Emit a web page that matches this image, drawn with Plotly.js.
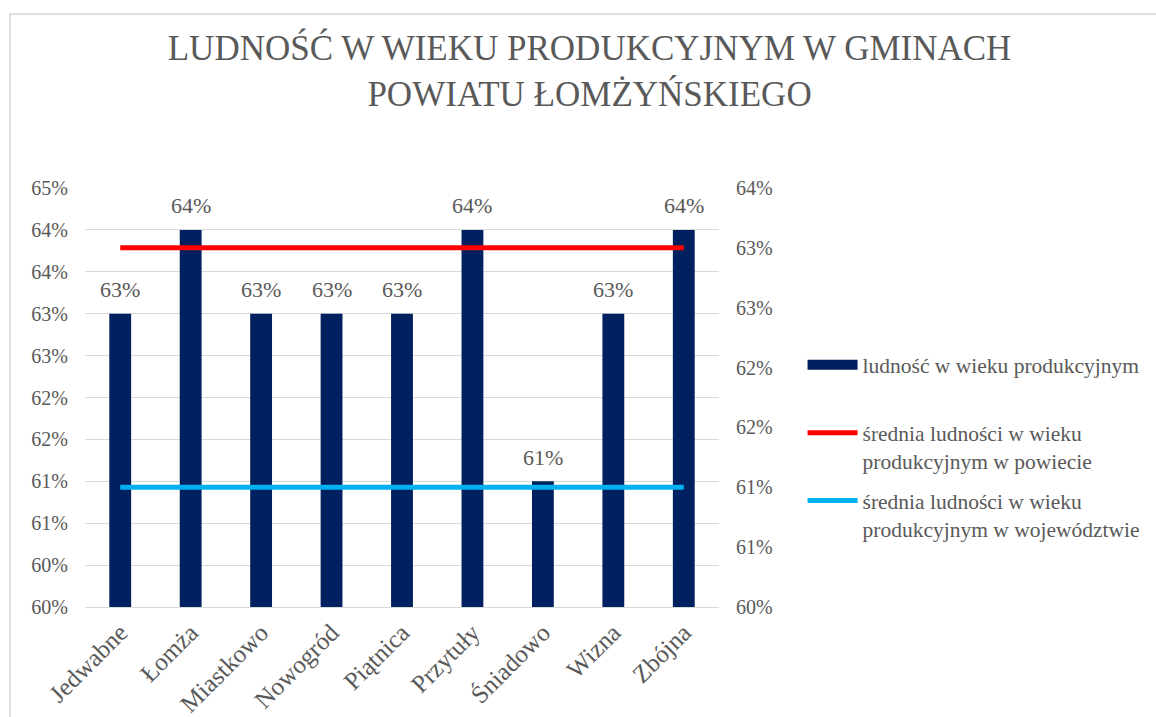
<!DOCTYPE html>
<html>
<head>
<meta charset="utf-8">
<script src="https://cdn.plot.ly/plotly-3.0.1.min.js"></script>
<style>
html,body{margin:0;padding:0;background:#fff;overflow:hidden;}
#wrap{position:relative;width:1156px;height:717px;}
#chart{width:1156px;height:717px;}
#frame{position:absolute;left:9px;top:13px;width:1200px;height:800px;border-left:2px solid #dedede;border-top:2px solid #dedede;pointer-events:none;}
</style>
</head>
<body>
<div id="wrap"><div id="chart"></div><div id="frame"></div></div>
<script>
// Data
var gminy = ["Jedwabne", "Łomża", "Miastkowo", "Nowogród", "Piątnica", "Przytuły", "Śniadowo", "Wizna", "Zbójna"];
var ludnosc = [0.633, 0.643, 0.633, 0.633, 0.633, 0.643, 0.613, 0.633, 0.643];
var sredniaPowiat = 0.633;
var sredniaWoj = 0.613;
var seriesNames = [
  "ludność w wieku produkcyjnym<br> ",
  "średnia ludności w wieku<br>produkcyjnym w powiecie",
  "średnia ludności w wieku<br>produkcyjnym w województwie"
];

var powiatArr = gminy.map(function(){ return sredniaPowiat; });
var wojArr = gminy.map(function(){ return sredniaWoj; });

var FONT = "Liberation Serif";
var GREY = "#595959";
var NAVY = "#002060";

var traces = [
  {type: "bar", x: gminy, y: ludnosc, name: seriesNames[0], showlegend: false,
   marker: {color: NAVY}, hoverinfo: "x+y"},
  // legend entry for the bars (wide rectangle key as in the original)
  {type: "scatter", mode: "lines", x: [null], y: [null], name: seriesNames[0], legendgroup: "a",
   line: {color: NAVY, width: 12}, hoverinfo: "skip"},
  {type: "scatter", mode: "lines", x: gminy, y: powiatArr, yaxis: "y2", name: seriesNames[1], legendgroup: "b",
   line: {color: "#FF0000", width: 5}},
  {type: "scatter", mode: "lines", x: gminy, y: wojArr, yaxis: "y2", name: seriesNames[2], legendgroup: "c",
   line: {color: "#00B0F0", width: 5}}
];

var annotations = gminy.map(function(g, i){
  return {x: g, y: ludnosc[i], xref: "x", yref: "y", text: Math.round(ludnosc[i]*100) + "%",
    showarrow: false, yanchor: "middle", yshift: 24, font: {family: FONT, size: 22, color: GREY}};
});

var layout = {
  width: 1156, height: 717,
  margin: {l: 85, r: 436, t: 188, b: 110},
  paper_bgcolor: "#fff", plot_bgcolor: "#fff",
  font: {family: FONT, color: GREY, size: 20},
  title: {text: "LUDNOŚĆ W WIEKU PRODUKCYJNYM W GMINACH<br>POWIATU ŁOMŻYŃSKIEGO",
    x: 0.51, xanchor: "center", y: 0.916, yanchor: "top",
    font: {family: FONT, size: 35, color: GREY}},
  bargap: 0.69,
  xaxis: {type: "category", tickangle: -45, showgrid: false, zeroline: false,
    showline: true, linecolor: "#d9d9d9", linewidth: 1, ticks: "",
    tickfont: {family: FONT, size: 25, color: GREY}},
  yaxis: {range: [0.598, 0.648], tick0: 0.598, dtick: 0.005, tickformat: ".0%",
    showgrid: true, gridcolor: "#d9d9d9", gridwidth: 1, zeroline: false, showline: false,
    ticks: "", ticklabelstandoff: 16, tickfont: {family: FONT, size: 20, color: GREY}},
  yaxis2: {overlaying: "y", side: "right", range: [0.603, 0.638], tick0: 0.603, dtick: 0.005,
    tickformat: ".0%", showgrid: false, zeroline: false, showline: false, ticks: "",
    ticklabelstandoff: 16, tickfont: {family: FONT, size: 20, color: GREY}},
  showlegend: true,
  legend: {x: 1.13, xanchor: "left", y: 0.627, yanchor: "top", valign: "top",
    itemwidth: 50, tracegroupgap: 9, font: {family: FONT, size: 21.5, color: GREY},
    bgcolor: "rgba(0,0,0,0)"},
  annotations: annotations
};

Plotly.newPlot("chart", traces, layout, {displayModeBar: false, staticPlot: true});
</script>
</body>
</html>
